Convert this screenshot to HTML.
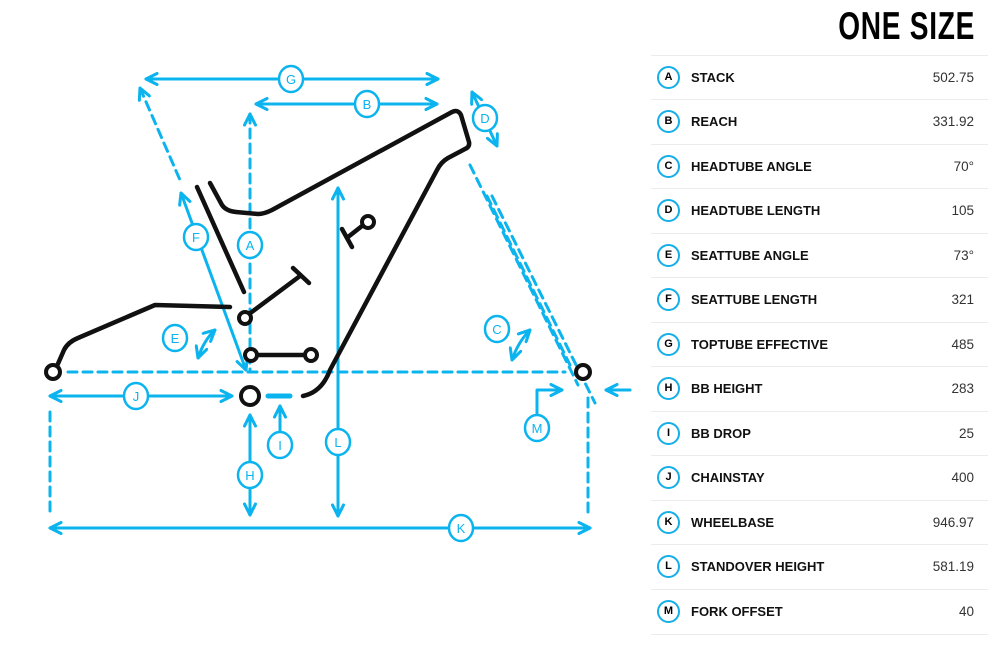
<!DOCTYPE html>
<html><head><meta charset="utf-8"><style>
body{margin:0;width:998px;height:646px;background:#fff;overflow:hidden;position:relative;font-family:"Liberation Sans",sans-serif}
svg{position:absolute;left:0;top:0}
.title{position:absolute;right:23px;top:5px;font-size:39px;font-weight:bold;color:#000;transform:scaleX(0.72);transform-origin:right center;letter-spacing:1px}
.row{position:absolute;left:651px;width:337px;height:44px;border-top:1px solid #ececec}
.row .c{position:absolute;left:6px;top:10px;width:19px;height:19px;border:2px solid #14aee8;border-radius:50%;font-size:11px;font-weight:bold;text-align:center;line-height:19px}
.row .n{position:absolute;left:40px;top:14px;font-size:13px;font-weight:bold;color:#111}
.row .v{position:absolute;right:14px;top:14px;font-size:13.5px;color:#333}
</style></head><body>
<svg width="998" height="646" viewBox="0 0 998 646" fill="none" stroke-linecap="round" stroke-linejoin="round">
<defs>
<marker id="ah" viewBox="0 0 10 10" refX="9" refY="5" markerWidth="4.6" markerHeight="4.6" orient="auto-start-reverse"><path d="M1 1 L9 5 L1 9" stroke="#0bb4ee" stroke-width="2.2" fill="none"/></marker>
</defs>
<g stroke="#0bb4ee" stroke-width="3">
<line x1="146" y1="79" x2="438" y2="79" marker-start="url(#ah)" marker-end="url(#ah)"/>
<line x1="256" y1="104" x2="437" y2="104" marker-start="url(#ah)" marker-end="url(#ah)"/>
<line x1="250" y1="114" x2="250" y2="370" stroke-dasharray="9 6" marker-start="url(#ah)"/>
<line x1="140" y1="88" x2="180" y2="180" stroke-dasharray="9 6" marker-start="url(#ah)"/>
<line x1="181" y1="193" x2="246" y2="370" marker-start="url(#ah)" marker-end="url(#ah)"/>
<line x1="472" y1="92" x2="497" y2="146" marker-start="url(#ah)" marker-end="url(#ah)"/>
<line x1="470" y1="165" x2="578" y2="385" stroke-dasharray="9 6"/>
<line x1="487" y1="196" x2="570" y2="365" stroke-dasharray="9 6"/>
<line x1="492" y1="196" x2="595" y2="403" stroke-dasharray="9 6"/>
<line x1="68" y1="372" x2="565" y2="372" stroke-dasharray="9 6"/>
<line x1="50" y1="396" x2="232" y2="396" marker-start="url(#ah)" marker-end="url(#ah)"/>
<line x1="50" y1="412" x2="50" y2="515" stroke-dasharray="9 6"/>
<line x1="588" y1="398" x2="588" y2="515" stroke-dasharray="9 6"/>
<line x1="50" y1="528" x2="590" y2="528" marker-start="url(#ah)" marker-end="url(#ah)"/>
<line x1="250" y1="415" x2="250" y2="515" marker-start="url(#ah)" marker-end="url(#ah)"/>
<line x1="280" y1="406" x2="280" y2="432" marker-start="url(#ah)"/>
<line x1="338" y1="188" x2="338" y2="516" marker-start="url(#ah)" marker-end="url(#ah)"/>
<path d="M537 414 V390 H562" marker-end="url(#ah)"/>
<line x1="630" y1="390" x2="606" y2="390" marker-end="url(#ah)"/>
<path d="M512 360 Q518 342 530 330" marker-start="url(#ah)" marker-end="url(#ah)"/>
<path d="M198 358 Q204 340 215 330" marker-start="url(#ah)" marker-end="url(#ah)"/>
<line x1="268" y1="396" x2="290" y2="396" stroke-width="5"/>
</g>
<g stroke="#0bb4ee" stroke-width="2.5" fill="#fff">
<ellipse cx="291" cy="79" rx="12" ry="13"/><ellipse cx="367" cy="104" rx="12" ry="13"/>
<ellipse cx="485" cy="118" rx="12" ry="13"/><ellipse cx="250" cy="245" rx="12" ry="13"/>
<ellipse cx="196" cy="237" rx="12" ry="13"/><ellipse cx="175" cy="338" rx="12" ry="13"/>
<ellipse cx="497" cy="329" rx="12" ry="13"/><ellipse cx="136" cy="396" rx="12" ry="13"/>
<ellipse cx="537" cy="428" rx="12" ry="13"/><ellipse cx="461" cy="528" rx="12" ry="13"/>
<ellipse cx="250" cy="475" rx="12" ry="13"/><ellipse cx="280" cy="445" rx="12" ry="13"/>
<ellipse cx="338" cy="442" rx="12" ry="13"/>
</g>
<g fill="#0bb4ee" font-family="Liberation Sans, sans-serif" font-size="13" text-anchor="middle">
<text x="291" y="84">G</text><text x="367" y="109">B</text><text x="485" y="123">D</text>
<text x="250" y="250">A</text><text x="196" y="242">F</text><text x="175" y="343">E</text>
<text x="497" y="334">C</text><text x="136" y="401">J</text><text x="537" y="433">M</text>
<text x="461" y="533">K</text><text x="250" y="480">H</text><text x="280" y="450">I</text>
<text x="338" y="447">L</text>
</g>
<g stroke="#111" stroke-width="4.5">
<path d="M57 366 L64 350 Q68 342 78 338 L155 305 L230 307"/>
<line x1="197" y1="187" x2="244" y2="292"/>
<path d="M210 183 L222 205 Q226 211 236 212 L258 214 Q264 214 272 210 L452 112 Q458 109 461 115 L469 142 Q470 147 465 149 L448 158 Q441 162 437 170 L330 370 Q322 392 303 396"/>
<line x1="249" y1="314" x2="300" y2="276"/><line x1="293" y1="268" x2="309" y2="283"/>
<line x1="256" y1="355" x2="305" y2="355"/>
<line x1="362" y1="226" x2="348" y2="237"/><line x1="342" y1="229" x2="352" y2="247"/>
</g>
<g stroke="#111" stroke-width="4" fill="#fff">
<circle cx="53" cy="372" r="7"/><circle cx="250" cy="396" r="9"/><circle cx="583" cy="372" r="7"/>
<circle cx="245" cy="318" r="6"/><circle cx="251" cy="355" r="6"/><circle cx="311" cy="355" r="6"/>
<circle cx="368" cy="222" r="6"/>
</g>
</svg>
<div class="title">ONE SIZE</div>
<div class="row" style="top:55px"><div class="c">A</div><div class="n">STACK</div><div class="v">502.75</div></div>
<div class="row" style="top:99px"><div class="c">B</div><div class="n">REACH</div><div class="v">331.92</div></div>
<div class="row" style="top:144px"><div class="c">C</div><div class="n">HEADTUBE ANGLE</div><div class="v">70°</div></div>
<div class="row" style="top:188px"><div class="c">D</div><div class="n">HEADTUBE LENGTH</div><div class="v">105</div></div>
<div class="row" style="top:233px"><div class="c">E</div><div class="n">SEATTUBE ANGLE</div><div class="v">73°</div></div>
<div class="row" style="top:277px"><div class="c">F</div><div class="n">SEATTUBE LENGTH</div><div class="v">321</div></div>
<div class="row" style="top:322px"><div class="c">G</div><div class="n">TOPTUBE EFFECTIVE</div><div class="v">485</div></div>
<div class="row" style="top:366px"><div class="c">H</div><div class="n">BB HEIGHT</div><div class="v">283</div></div>
<div class="row" style="top:411px"><div class="c">I</div><div class="n">BB DROP</div><div class="v">25</div></div>
<div class="row" style="top:455px"><div class="c">J</div><div class="n">CHAINSTAY</div><div class="v">400</div></div>
<div class="row" style="top:500px"><div class="c">K</div><div class="n">WHEELBASE</div><div class="v">946.97</div></div>
<div class="row" style="top:544px"><div class="c">L</div><div class="n">STANDOVER HEIGHT</div><div class="v">581.19</div></div>
<div class="row" style="top:589px;border-bottom:1px solid #ececec"><div class="c">M</div><div class="n">FORK OFFSET</div><div class="v">40</div></div>
</body></html>
